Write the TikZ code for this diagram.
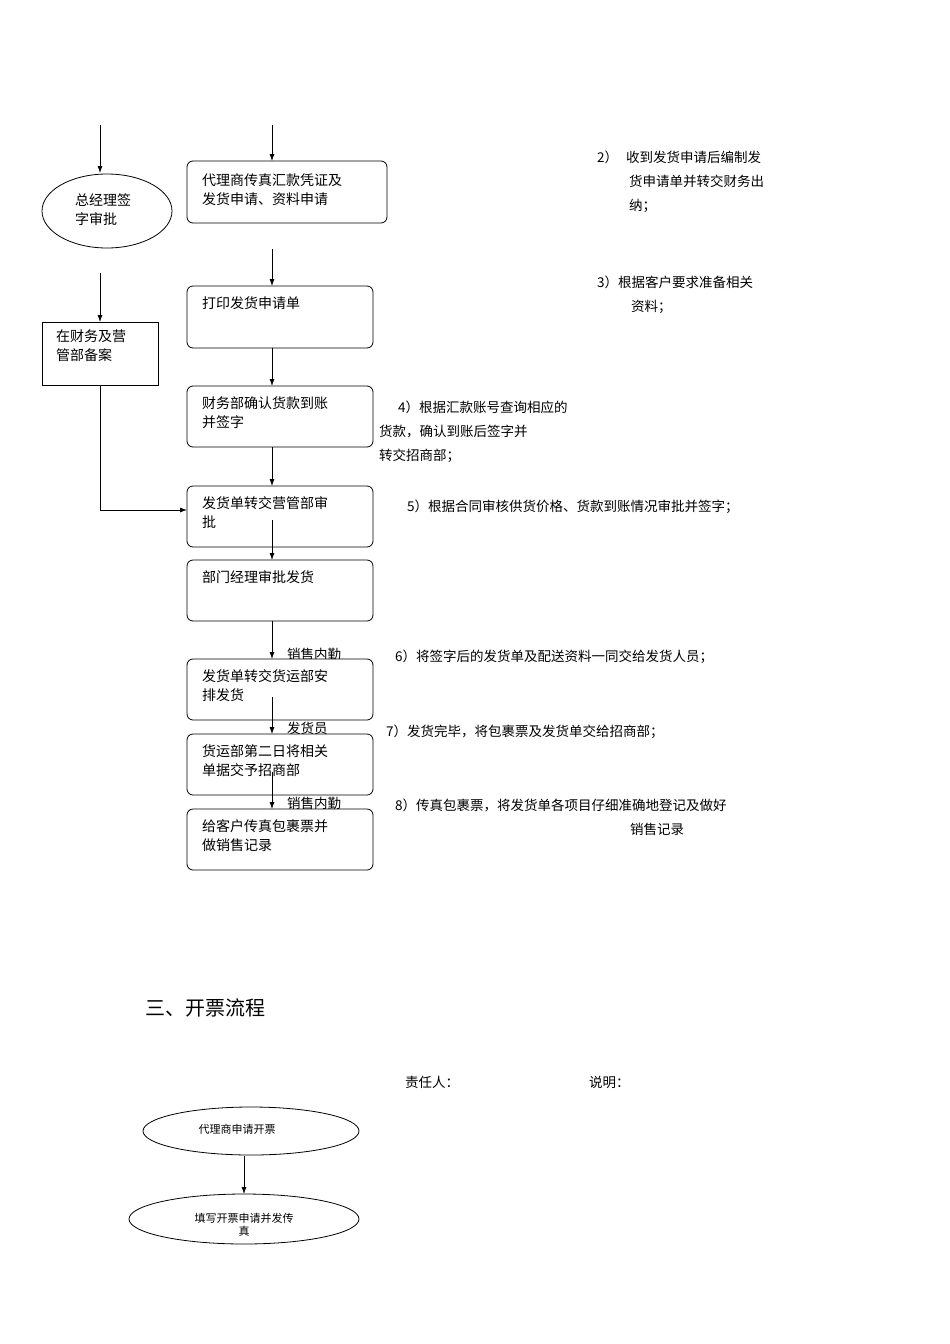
\documentclass[tikz,border=0pt]{standalone}
\usepackage{fontspec}
\setmainfont{Liberation Serif}
\newfontfamily\cjk{Noto Sans CJK SC}
\usetikzlibrary{arrows.meta,shapes.geometric}
\begin{document}
\begin{tikzpicture}[x=1pt,y=-1pt,
  box/.style={draw,fill=white,rounded corners=6pt,line width=0.8pt},
  arr/.style={-{Latex[length=7pt,width=5pt]},line width=0.8pt},
  t/.style={anchor=north west,font=\cjk\fontsize{14}{19}\selectfont,align=left,inner sep=0pt},
  lab/.style={anchor=north west,font=\cjk\fontsize{13.5}{24}\selectfont,align=left,inner sep=0pt},
  sm/.style={font=\cjk\fontsize{11}{13}\selectfont,align=center,inner sep=0pt}]
\useasboundingbox[fill=white] (0,0) rectangle (950,1344);
% arrows behind boxes
\coordinate (l0) at (100,125); \coordinate (l1) at (100,173);
\coordinate (r0) at (272,125); \coordinate (r1) at (272,161);
\draw[arr] (l0)--(l1);
\draw[arr] (r0)--(r1);
\draw[arr] (100,273)--(100,322);
\draw[arr] (272,249)--(272,286);
% overlapping labels (partially covered)
\node[lab] (s1) at (287,648) {销售内勤};
\node[lab] (s2) at (287,722) {发货员};
\node[lab] (s3) at (287,797) {销售内勤};
\node[draw,ellipse,minimum width=130pt,minimum height=74pt,inner sep=0pt,line width=0.8pt] (e) at (107,211) {};
\node[t] at (75,193) {总经理签\\字审批};
\draw[line width=0.8pt] (42,322) rectangle (158,385);
\node (rect) at (100,385) {};
\node[t] at (56,330) {在财务及营\\管部备案};
\draw[box] (187,161) rectangle (387,223); \node[t] at (202,173) {代理商传真汇款凭证及\\发货申请、资料申请};
\draw[box] (187,286) rectangle (373,348); \node[t] at (202,296) {打印发货申请单};
\draw[box] (187,386) rectangle (373,447); \node[t] at (202,396) {财务部确认货款到账\\并签字};
\draw[box] (187,486) rectangle (373,547); \node[t] at (202,496) {发货单转交营管部审\\批};
\draw[box] (187,560) rectangle (373,621); \node[t] at (202,570) {部门经理审批发货};
\draw[box] (187,659) rectangle (373,720); \node[t] at (202,669) {发货单转交货运部安\\排发货};
\draw[box] (187,734) rectangle (373,795); \node[t] at (202,744) {货运部第二日将相关\\单据交予招商部};
\draw[box] (187,809) rectangle (373,870); \node[t] at (202,819) {给客户传真包裹票并\\做销售记录};
\draw[arr] (272,348)--(272,386);
\draw[arr] (272,447)--(272,486);
\draw[arr] (100,385)--(100,510)--(187,510);
\draw[arr] (272,520)--(272,560);
\draw[arr] (272,621)--(272,659);
\draw[arr] (272,697)--(272,734);
\draw[arr] (272,772)--(272,809);
% right notes
\node[lab] at (597,151) {2）\hspace{8pt}收到发货申请后编制发\\\hspace{32pt}货申请单并转交财务出\\\hspace{32pt}纳；};
\node[lab] at (597,276) {3）根据客户要求准备相关\\\hspace{34pt}资料；};
\node[lab] at (379,401) {\hspace{19pt}4）根据汇款账号查询相应的\\货款，确认到账后签字并\\转交招商部；};
\node[lab] at (407,500) {5）根据合同审核供货价格、货款到账情况审批并签字；};
\node[lab] at (395,650) {6）将签字后的发货单及配送资料一同交给发货人员；};
\node[lab] at (386,725) {7）发货完毕，将包裹票及发货单交给招商部；};
\node[lab] at (395,799) {8）传真包裹票，将发货单各项目仔细准确地登记及做好\\\hspace{235pt}销售记录};
% section 3
\node[anchor=west,font=\cjk\fontsize{20}{24}\selectfont,inner sep=0pt] (h) at (145,1008) {三、开票流程};
\node[anchor=west,font=\cjk\fontsize{13.5}{16}\selectfont,inner sep=0pt] at (405,1082) {责任人：};
\node[anchor=west,font=\cjk\fontsize{13.5}{16}\selectfont,inner sep=0pt] at (589,1082) {说明：};
\node[draw,ellipse,minimum width=216pt,minimum height=48pt,inner sep=0pt,line width=0.8pt] (f1) at (251,1131) {};
\node[sm] at (237,1129) {代理商申请开票};
\node[draw,ellipse,minimum width=230pt,minimum height=50pt,inner sep=0pt,line width=0.8pt] (f2) at (244,1219) {};
\node[sm] at (244,1225) {填写开票申请并发传\\真};
\draw[arr] (244,1156)--(244,1194);
\end{tikzpicture}
\end{document}
